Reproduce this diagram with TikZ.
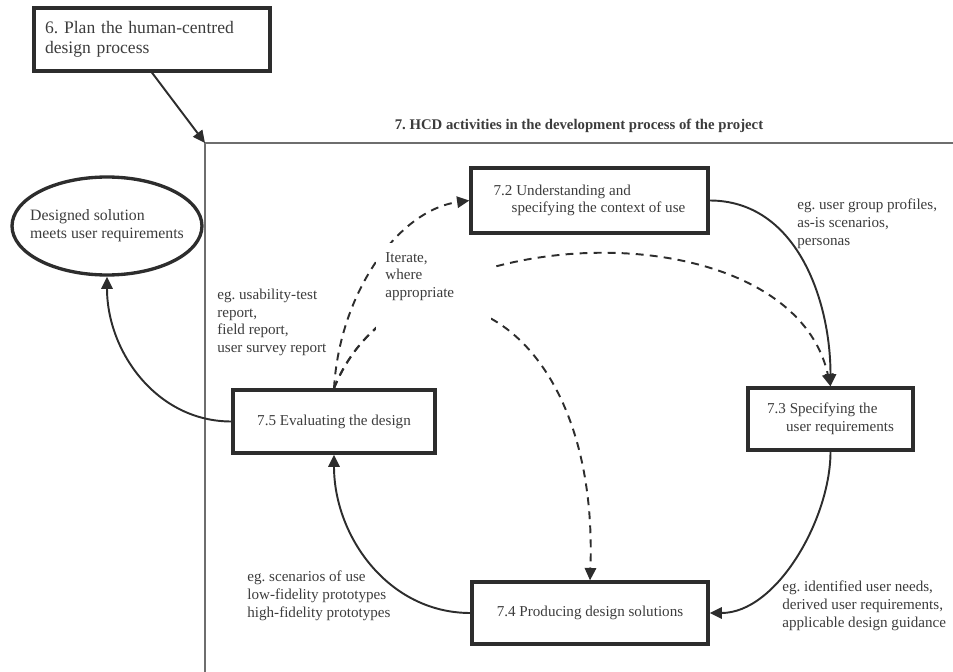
\documentclass[tikz,border=0pt]{standalone}
\usepackage{fontspec}
\setmainfont{Liberation Serif}
\usetikzlibrary{arrows.meta, positioning, shapes.geometric}
\definecolor{boxline}{RGB}{45,45,45}
\definecolor{txt}{RGB}{60,60,60}
\definecolor{frameline}{RGB}{110,110,110}
\frenchspacing

\begin{document}
\begin{tikzpicture}[
    x=0.02cm, y=-0.02cm,
    every node/.style={text=txt, font=\fontsize{8.6}{10}\selectfont},
    box/.style={draw=boxline, line width=1.9pt, align=left, inner sep=0pt},
    note/.style={anchor=north west, align=left, inner sep=0pt},
    arrow/.style={-{Triangle[length=7pt,width=6.5pt]}, line width=1.1pt, draw=boxline},
    iter/.style={arrow, dash pattern=on 4.5pt off 3.5pt}
]
\useasboundingbox (0,0) rectangle (953,672);

% Frame of the project
\coordinate (corner) at (205,143);
\draw[frameline, line width=1.2pt] (205,672) -- (corner) -- (953,143);
\node[font=\bfseries\fontsize{8.4}{10}\selectfont] (hcd) at (579,126) {7. HCD activities in the development process of the project};

% Nodes
\node[box, minimum width=4.72cm, minimum height=1.26cm, text width=4.28cm, inner xsep=0.22cm,
      font=\fontsize{10}{11.5}\selectfont] (plan) at (152,39.5) {6. Plan the human-centred\\design process};
\node[ellipse, draw=boxline, line width=1.9pt, minimum width=3.8cm, minimum height=1.96cm, inner sep=0pt,
      label={[align=left, inner sep=0pt, font=\fontsize{9}{10.3}\selectfont]center:Designed solution\\meets user requirements}] (goal) at (107,226) {};
\node[box, minimum width=4.74cm, minimum height=1.3cm] (ctx) at (589.5,200.5) {7.2 Understanding and\\\hspace*{0.36cm}specifying the context of use};
\node[box, minimum width=3.3cm, minimum height=1.24cm] (req) at (830.5,419) {7.3 Specifying the\\\hspace*{0.38cm}user requirements};
\node[box, minimum width=4.72cm, minimum height=1.24cm] (sol) at (590,613) {7.4 Producing design solutions};
\node[box, minimum width=4.04cm, minimum height=1.26cm] (eval) at (334,421.5) {7.5 Evaluating the design};

% Arrows
\draw[arrow] (plan.south) -- (corner);
\draw[arrow] (ctx.east) to[out=0, in=90] (req.north);
\draw[arrow] (req.south) to[out=-90, in=0, looseness=0.85] (sol.east);
\draw[arrow] (sol.west) to[out=180, in=-90] (eval.south);
\draw[arrow] (eval.west) to[out=180, in=-90] (goal.south);

% Iterate, where appropriate
\draw[iter] (eval.north) .. controls (340,290) and (400,210) .. (ctx.west);
\draw[iter] (eval.north) .. controls (400,215) and (790,205) .. (req.north);
\draw[iter] (eval.north) .. controls (400,230) and (600,300) .. (sol.north);
\node[fill=white, minimum width=2.3cm, minimum height=1.94cm, inner sep=0pt] (gap) at (433.5,291.5) {};
\node[note] (iterate) at (385,252) {Iterate,\\where\\appropriate};

% Examples of outputs
\node[note] (usab) at (217,289) {eg. usability-test\\report,\\field report,\\user survey report};
\node[note] (profiles) at (797,199) {eg. user group profiles,\\as-is scenarios,\\personas};
\node[note] (needs) at (782,581) {eg. identified user needs,\\derived user requirements,\\applicable design guidance};
\node[note] (protos) at (247,571) {eg. scenarios of use\\low-fidelity prototypes\\high-fidelity prototypes};

\end{tikzpicture}
\end{document}
